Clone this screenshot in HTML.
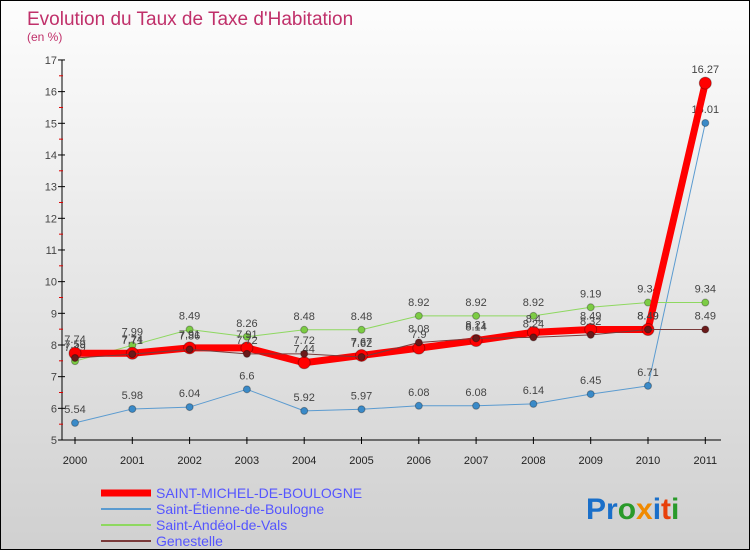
<!DOCTYPE html>
<html><head><meta charset="utf-8"><style>
body{margin:0}
#c{position:relative;width:748px;height:548px;border:1px solid #000;background:linear-gradient(#fdfdfd,#d0d0d0);font-family:"Liberation Sans",sans-serif;overflow:hidden}
</style></head><body>
<div id="c">
<svg id="s" width="748" height="548">
<text x="26" y="24" font-size="19" fill="#c0306a">Evolution du Taux de Taxe d'Habitation</text>
<text x="26" y="40" font-size="12" fill="#c0306a">(en %)</text>
<g id="g"></g>
<text x="585" y="518" font-size="30" font-weight="bold"><tspan fill="#1a6fc9">Pr</tspan><tspan fill="#2a9a2a">o</tspan><tspan fill="#f08a00">x</tspan><tspan fill="#1a6fc9">i</tspan><tspan fill="#e8400a">t</tspan><tspan fill="#2a9a2a">i</tspan></text>
</svg>
</div>
<script>
const years=[2000,2001,2002,2003,2004,2005,2006,2007,2008,2009,2010,2011];
const yTicks=[5,6,7,8,9,10,11,12,13,14,15,16,17];
const saintMichel=[7.74,7.74,7.91,7.91,7.44,7.67,7.9,8.14,8.4,8.49,8.49,16.27];
const saintEtienne=[5.54,5.98,6.04,6.6,5.92,5.97,6.08,6.08,6.14,6.45,6.71,15.01];
const saintAndeol=[7.49,7.99,8.49,8.26,8.48,8.48,8.92,8.92,8.92,9.19,9.34,9.34];
const genestelle=[7.59,7.71,7.86,7.72,7.72,7.62,8.08,8.21,8.24,8.32,8.49,8.49];
const NS="http://www.w3.org/2000/svg";
const g=document.getElementById('g');
const X=i=>74+i*57.3, Y=v=>439-(v-5)*31.67;
function el(t,a,p){const e=document.createElementNS(NS,t);for(const k in a)e.setAttribute(k,a[k]);(p||g).appendChild(e);return e;}
let e=el('line',{x1:61,y1:Y(17),x2:61,y2:439,stroke:'#000'});

e=el('line',{x1:61,y1:439,x2:720,y2:439,stroke:'#000'});

yTicks.forEach(v=>{
 let t=el('line',{x1:57,x2:64,y1:Y(v),y2:Y(v),stroke:'#000'});
 
 if(v<17){let m=el('line',{x1:58,x2:62,y1:Y(v+0.5),y2:Y(v+0.5),stroke:'#d00'});
 }
 let l=el('text',{x:56,y:Y(v)+4,'font-size':11,fill:'#444','text-anchor':'end'});l.textContent=v;
 
});
years.forEach((y,i)=>{
 let t=el('line',{x1:X(i),x2:X(i),y1:436,y2:443,stroke:'#000'});
 
 let l=el('text',{x:X(i),y:463,'font-size':11,fill:'#222','text-anchor':'middle'});l.textContent=y;
 
});
function series(d,col,w,r,name,dot){
 const p=el('polyline',{points:d.map((v,i)=>X(i)+','+Y(v)).join(' '),fill:'none',stroke:col,'stroke-width':w,'stroke-linejoin':'round'});
 
 d.forEach((v,i)=>{
  const c=el('circle',{cx:X(i),cy:Y(v),r:r,fill:dot,stroke:'rgba(0,0,0,0.3)'});
  
  const l=el('text',{x:X(i),y:Y(v)-10,'font-size':11,fill:'#444','text-anchor':'middle'});l.textContent=v;
  
 });
}
series(saintEtienne,'#5b9bd0',1,3.5,'saint-etienne','#3a8ac8');
series(saintAndeol,'#8ed860',1,3.5,'saint-andeol','#7ccc44');
series(saintMichel,'#ff0000',7,6,'saint-michel','#ff0000');
series(genestelle,'#7a3a3a',1,3.5,'genestelle','#6a1a1a');
const leg=[['SAINT-MICHEL-DE-BOULOGNE','#ff0000',7],['Saint-Étienne-de-Boulogne','#5b9bd0',2],['Saint-Andéol-de-Vals','#8ed860',2],['Genestelle','#7a3a3a',2]];
leg.forEach((L,i)=>{
 const y=492+i*16;
 const ln=el('line',{x1:100,x2:150,y1:y,y2:y,stroke:L[1],'stroke-width':L[2]});
 
 const t=el('text',{x:155,y:y+5,'font-size':14,fill:'#5555ff'});t.textContent=L[0];
 
});
</script>
</body></html>
